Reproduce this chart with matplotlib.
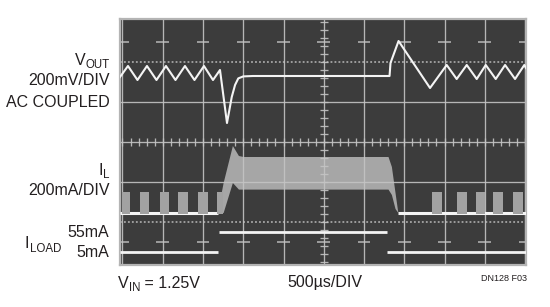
import matplotlib
matplotlib.use("Agg")
import matplotlib.pyplot as plt
import numpy as np

# ---------------- data ----------------
time_per_div_us = 500
n_time_div = 10

# V_OUT, AC coupled, mV relative to regulated level (200mV/DIV)
vout_t_us = [-31, 68, 186, 304, 422, 540, 658, 776, 894, 1012, 1124, 1211, 1298,
             1357, 1398, 1438, 1500, 1621, 3317, 3329, 3429, 3820, 4027, 4151,
             4276, 4400, 4512, 4636, 4752, 4876, 4991, 5012]
vout_mV = [-5, 50, -20, 50, -20, 50, -20, 50, -20, 50, -20, 30, -235,
           -105, -45, -12, -2, 0, 0, 65, 175, -60, 55, -15,
           55, -15, 55, -15, 55, -15, 55, 40]

# I_L (200mA/DIV): burst-mode current packets at light load
il_burst_start_us = [-10, 217, 466, 693, 942, 1178, 3845, 4155, 4385, 4602, 4851]
il_burst_end_us = [93, 333, 581, 817, 1066, 1250, 3969, 4280, 4497, 4727, 4975]
il_burst_peak_mA = 107
il_idle_start_us = [-31, 3420]
il_idle_end_us = [1190, 5012]
# I_L during heavy load (ripple envelope)
il_band_t_us = [1178, 1250, 1365, 1440, 1500, 3298, 3340, 3385, 3420]
il_band_upper_mA = [0, 150, 335, 285, 280, 280, 230, 100, 0]
il_band_lower_mA = [0, 0, 150, 117, 117, 117, 90, 20, 0]

# I_LOAD steps
iload_start_us = [-31, 1200, 3290]
iload_end_us = [1190, 3285, 5012]
iload_mA = [5, 55, 5]

# channel placement on screen (divisions) and scales
vout_zero_div, vout_mV_per_div = 1.65, 200
il_zero_div, il_mA_per_div = -1.7625, 200
iload_zero_div, iload_mA_per_div = -2.7875, 100

# ---------------- figure ----------------
W, H = 550, 307
fig = plt.figure(figsize=(W / 100, H / 100), dpi=100)
fig.patch.set_facecolor("white")
plt.rcParams["font.family"] = ["Liberation Sans", "DejaVu Sans"]

ax = fig.add_axes([120 / W, 1 - 265 / H, 406 / W, 246 / H])
ax.set_facecolor("#3c3c3c")
ax.set_xlim(-31, 5012)
ax.set_ylim(-3.075, 3.075)
ax.set_xticks([])
ax.set_yticks([])
for s in ax.spines.values():
    s.set_color("#b4b4b4")
    s.set_linewidth(1.6)

grid_c = "#c4c4c4"
t_grid = np.arange(0, n_time_div + 1) * time_per_div_us
ax.vlines(t_grid, -3.1, 3.1, color=grid_c, lw=0.95, zorder=2, alpha=0.9)
ax.hlines([-1, 1], -31, 5012, color=grid_c, lw=0.95, zorder=2, alpha=0.9)
ax.hlines(0, -31, 5012, color=grid_c, lw=0.95, zorder=2, alpha=0.9)
ax.hlines([-2, 2], -31, 5012, color=grid_c, lw=1.1, zorder=2,
          linestyles=[(0, (1.2, 1.4))], alpha=0.9)
for yy in (-2.5, 2.5):
    ax.hlines(np.full(len(t_grid), yy), t_grid - 80, t_grid + 80,
              color=grid_c, lw=1.1, zorder=2, alpha=0.9)
# centre-line minor ticks
tmin = np.arange(0, 5001, 100)
ax.vlines(tmin, -0.09, 0.09, color=grid_c, lw=0.95, zorder=2, alpha=0.9)
ymin = np.arange(-15, 16) * 0.2
ax.hlines(ymin, 2500 - 50, 2500 + 50, color=grid_c, lw=0.95, zorder=2, alpha=0.9)

# I_L envelope during load step
ax.fill_between(il_band_t_us,
                il_zero_div + np.array(il_band_lower_mA) / il_mA_per_div,
                il_zero_div + np.array(il_band_upper_mA) / il_mA_per_div,
                color="#a6a6a6", lw=0, zorder=1)
# I_L idle baseline
ax.hlines([il_zero_div] * len(il_idle_start_us), il_idle_start_us, il_idle_end_us,
          color="#f4f4f4", lw=2.2, zorder=3)
# I_L bursts
starts = np.array(il_burst_start_us)
widths = np.array(il_burst_end_us) - starts
ax.bar(starts, il_burst_peak_mA / il_mA_per_div, width=widths, bottom=il_zero_div - 0.03,
       align="edge", color="#a2a2a2", lw=0, zorder=3.5)

# V_OUT trace
ax.plot(vout_t_us, vout_zero_div + np.array(vout_mV) / vout_mV_per_div,
        color="#f4f4f4", lw=1.5, zorder=4, solid_joinstyle="round")

# I_LOAD trace
ax.hlines(iload_zero_div + np.array(iload_mA) / iload_mA_per_div,
          iload_start_us, iload_end_us, color="#f4f4f4", lw=2.0, zorder=4)

# ---------------- text ----------------
txt_c = "#231f20"
MAIN = 11.5
SUB = 8.3
renderer = fig.canvas.get_renderer()


def fx(x):
    return x / W


def fy(y):
    return 1 - y / H


def plain(s, x, y, ha="right", size=MAIN, **kw):
    return fig.text(fx(x), fy(y), s, ha=ha, va="baseline", fontsize=size, color=txt_c, **kw)


def with_sub(main, sub, x, y, ha="right"):
    if ha == "right":
        t2 = plain(sub, x, y + 3.5, ha="right", size=SUB)
        bb = t2.get_window_extent(renderer)
        plain(main, bb.x0 - 0.3, y, ha="right")
    else:
        t1 = plain(main, x, y, ha="left")
        bb = t1.get_window_extent(renderer)
        plain(sub, bb.x1 + 0.3, y + 3.5, ha="left", size=SUB)


with_sub("V", "OUT", 109.5, 65)
plain("200mV/DIV", 109.5, 85)
plain("AC COUPLED", 109.5, 107)
with_sub("I", "L", 110, 175)
plain("200mA/DIV", 109.5, 195)
with_sub("I", "LOAD", 25, 248, ha="left")
plain("55mA", 109.5, 237)
plain("5mA", 109.5, 257)
with_sub("V", "IN", 118, 287.5, ha="left")
fig.canvas.draw()
# place "= 1.25V" after V_IN
last = fig.texts[-1].get_window_extent(renderer)
plain(" = 1.25V", last.x1, 287.5, ha="left")
plain("500µs/DIV", 287, 287.5, ha="left")
plain("DN128 F03", 527, 281, ha="right", size=6.5)

fig.savefig("out.png", dpi=100, facecolor="white")
